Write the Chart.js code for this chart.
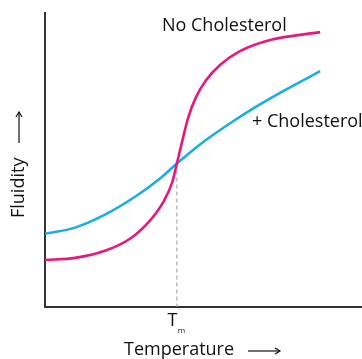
<!DOCTYPE html>
<html>
<head>
<meta charset="utf-8">
<script src="https://cdn.jsdelivr.net/npm/chart.js@4/dist/chart.umd.min.js"></script>
<style>
  html, body { margin: 0; padding: 0; background: #fff; }
  #wrap { width: 362px; height: 359px; position: relative; }
</style>
</head>
<body>
<div id="wrap"><canvas id="c"></canvas></div>
<script>
// Membrane fluidity vs temperature (arbitrary units, 0–100 on both axes)
const temperature = [0, 9.5, 18.9, 26.8, 33.1, 37.2, 40.1, 41.6, 43.2, 45.1, 47.6, 50.8, 55.2, 61.5, 71.0, 86.8];
const fluidityNoChol = [16.0, 16.7, 19.1, 23.2, 29.4, 35.5, 42.3, 48.8, 56.0, 64.2, 71.3, 77.1, 82.3, 87.0, 90.8, 93.5];

const temperatureChol = [0, 9.5, 18.9, 28.4, 36.3, 41.6, 48.9, 58.4, 67.8, 77.3, 86.8];
const fluidityChol = [24.9, 27.0, 31.4, 37.5, 43.7, 48.8, 55.3, 62.5, 68.9, 74.7, 80.2];

// Phase transition temperature and the fluidity where both curves meet
const tm = 41.6;
const tmFluidity = 48.8;

const seriesLabels = ['No Cholesterol', '+ Cholesterol'];
const axisTitles = { x: 'Temperature', y: 'Fluidity' };

const FONT = '"Open Sans", "DejaVu Sans", sans-serif';
const MAGENTA = '#e8177f';
const CYAN = '#1aaee3';

const toPoints = (xs, ys) => xs.map((x, i) => ({ x, y: ys[i] }));

// Draws axis titles with arrows, the Tm tick label and the curve labels
const annotations = {
  id: 'annotations',
  afterDraw(chart) {
    const { ctx, scales: { x, y }, chartArea } = chart;
    ctx.save();
    ctx.fillStyle = '#111';
    ctx.strokeStyle = '#111';
    ctx.lineWidth = 1.2;
    ctx.textBaseline = 'middle';

    // Curve labels
    ctx.font = '18px ' + FONT;
    ctx.textAlign = 'left';
    ctx.fillText(seriesLabels[0], x.getPixelForValue(36.9), y.getPixelForValue(95.6));
    ctx.fillText(seriesLabels[1], x.getPixelForValue(65.3), y.getPixelForValue(63.1));

    // Tm tick label
    const tx = x.getPixelForValue(tm);
    ctx.font = '18px ' + FONT;
    ctx.textAlign = 'right';
    ctx.fillText('T', tx + 0.5, chartArea.bottom + 14);
    ctx.font = '8px ' + FONT;
    ctx.textAlign = 'left';
    ctx.fillText('m', tx + 1, chartArea.bottom + 24);

    // X axis title with arrow
    ctx.font = '18px ' + FONT;
    ctx.textAlign = 'left';
    const xy = chartArea.bottom + 43;
    ctx.fillText(axisTitles.x, 124, xy);
    const ax0 = 248, ax1 = 280;
    ctx.beginPath();
    ctx.moveTo(ax0, xy + 1);
    ctx.lineTo(ax1, xy + 1);
    ctx.stroke();
    ctx.beginPath();
    ctx.moveTo(ax1 - 5, xy - 2);
    ctx.lineTo(ax1, xy + 1);
    ctx.lineTo(ax1 - 5, xy + 4);
    ctx.stroke();

    // Y axis title with arrow (rotated)
    ctx.translate(19, 0);
    ctx.rotate(-Math.PI / 2);
    ctx.textAlign = 'left';
    ctx.fillText(axisTitles.y, -218, 0);
    const ay1 = -112;
    ctx.beginPath();
    ctx.moveTo(ay1 - 31, 0);
    ctx.lineTo(ay1, 0);
    ctx.stroke();
    ctx.beginPath();
    ctx.moveTo(ay1 - 5, -3);
    ctx.lineTo(ay1, 0);
    ctx.lineTo(ay1 - 5, 3);
    ctx.stroke();
    ctx.restore();
  }
};

new Chart(document.getElementById('c'), {
  type: 'scatter',
  data: {
    datasets: [
      {
        label: seriesLabels[0],
        data: toPoints(temperature, fluidityNoChol),
        showLine: true,
        borderColor: MAGENTA,
        borderWidth: 2.6,
        pointRadius: 0,
        cubicInterpolationMode: 'monotone'
      },
      {
        label: seriesLabels[1],
        data: toPoints(temperatureChol, fluidityChol),
        showLine: true,
        borderColor: CYAN,
        borderWidth: 2.6,
        pointRadius: 0,
        cubicInterpolationMode: 'monotone'
      },
      {
        label: 'Tm',
        data: [{ x: tm, y: tmFluidity }, { x: tm, y: 0 }],
        showLine: true,
        borderColor: '#9a9a9a',
        borderWidth: 1,
        borderDash: [4, 3],
        pointRadius: 0
      }
    ]
  },
  options: {
    responsive: true,
    maintainAspectRatio: false,
    animation: false,
    layout: { padding: { left: 37, right: 0, top: 13, bottom: 44 } },
    plugins: { legend: { display: false }, tooltip: { enabled: false } },
    scales: {
      x: {
        type: 'linear', min: 0, max: 100,
        grid: { display: false },
        ticks: { display: false },
        border: { display: true, color: '#333', width: 2 }
      },
      y: {
        type: 'linear', min: 0, max: 100,
        grid: { display: false },
        ticks: { display: false },
        border: { display: true, color: '#333', width: 2 }
      }
    }
  },
  plugins: [annotations]
});
</script>
</body>
</html>
